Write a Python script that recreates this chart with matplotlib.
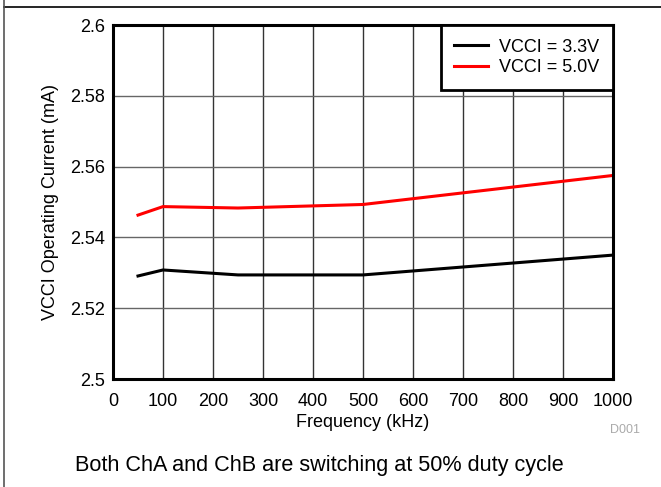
import numpy as np
import matplotlib.pyplot as plt
from matplotlib.lines import Line2D

plt.rcParams['font.family'] = ['Liberation Sans', 'DejaVu Sans']

freq = [50, 100, 250, 500, 1000]
vcci_33 = [2.5291, 2.5308, 2.5294, 2.5294, 2.5350]
vcci_50 = [2.5463, 2.5487, 2.5483, 2.5493, 2.5575]

x_ticks = [0, 100, 200, 300, 400, 500, 600, 700, 800, 900, 1000]
y_ticks = [2.5, 2.52, 2.54, 2.56, 2.58, 2.6]
y_labels = ['2.5', '2.52', '2.54', '2.56', '2.58', '2.6']

fig = plt.figure(figsize=(6.61, 4.87), dpi=100)
ax = fig.add_axes([113 / 661, 1 - 379 / 487, 500 / 661, 354 / 487])

ax.plot(freq, vcci_33, color='black', lw=2.2, label='VCCI = 3.3V')
ax.plot(freq, vcci_50, color='#ff0000', lw=2.2, label='VCCI = 5.0V')

ax.set_xlim(0, 1000)
ax.set_ylim(2.5, 2.6)
ax.set_xticks(x_ticks)
ax.set_yticks(y_ticks)
ax.set_yticklabels(y_labels)
ax.tick_params(length=0, labelsize=13)
ax.tick_params(axis='x', pad=10)
ax.tick_params(axis='y', pad=6)

# grid
for xv in x_ticks[1:-1]:
    ax.axvline(xv, color='#333333', lw=1, zorder=0)
for yv in y_ticks[1:-1]:
    ax.axhline(yv, color='#666666', lw=1, zorder=0)

for s in ax.spines.values():
    s.set_linewidth(2.2)

ax.set_xlabel('Frequency (kHz)', fontsize=13, labelpad=3)
ax.set_ylabel('VCCI Operating Current (mA)', fontsize=13, labelpad=8)

leg = ax.legend(loc='upper right', fontsize=13, frameon=True, fancybox=False,
                borderaxespad=0, handlelength=1.9, handletextpad=0.6,
                labelspacing=0.2, borderpad=0.75)
leg.get_frame().set_edgecolor('black')
leg.get_frame().set_linewidth(2)
leg.get_frame().set_alpha(1)

fig.text(625 / 661, 1 - 430 / 487, 'D001', color='#aaaaaa', fontsize=9,
         ha='center', va='center')
fig.text(319 / 661, 1 - 465 / 487, 'Both ChA and ChB are switching at 50% duty cycle',
         fontsize=15.6, ha='center', va='center')

# frame lines of the figure
fig.add_artist(Line2D([4 / 661, 1], [1 - 7 / 487, 1 - 7 / 487], color='black', lw=1.2,
                      transform=fig.transFigure))
fig.add_artist(Line2D([4 / 661, 4 / 661], [0, 1], color='#555555', lw=1.2,
                      transform=fig.transFigure))

fig.savefig('out.png', dpi=100)
